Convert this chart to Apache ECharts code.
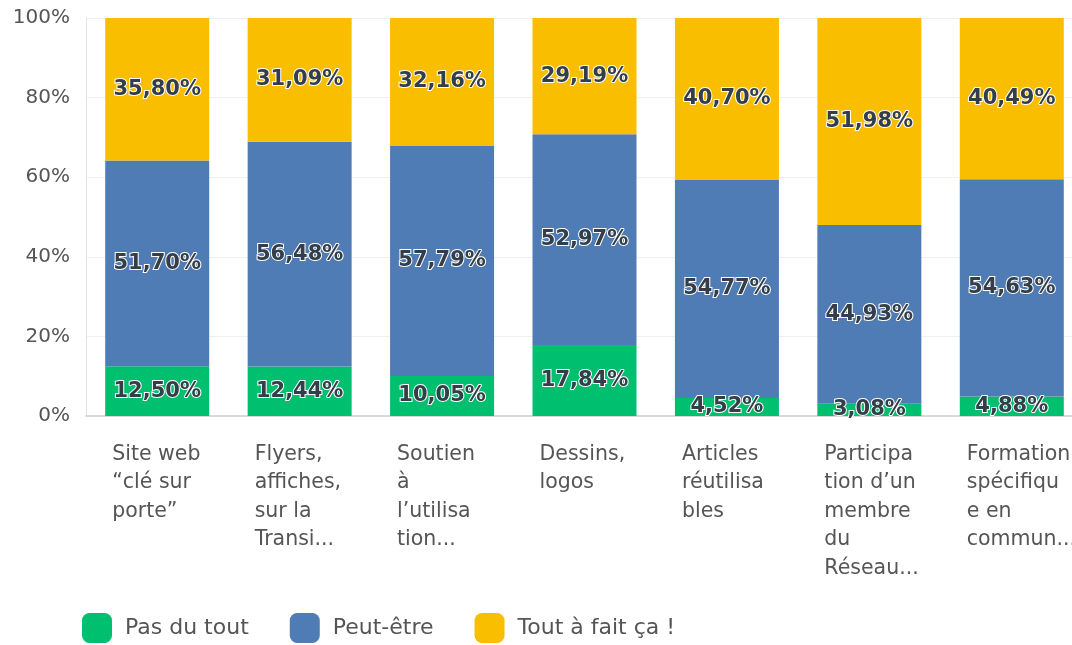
<!DOCTYPE html>
<html><head><meta charset="utf-8">
<script src="https://cdn.jsdelivr.net/npm/echarts@6/dist/echarts.min.js"></script>
<style>html,body{margin:0;padding:0;background:#fff}#c{width:1072px;height:645px}</style>
</head><body><div id="c"></div>
<script>
const categories = [
  "Site web\n“clé sur\nporte”",
  "Flyers,\naffiches,\nsur la\nTransi...",
  "Soutien\nà\nl’utilisa\ntion...",
  "Dessins,\nlogos",
  "Articles\nréutilisa\nbles",
  "Participa\ntion d’un\nmembre\ndu\nRéseau...",
  "Formation\nspécifiqu\ne en\ncommun..."
];
const seriesNames = ["Pas du tout", "Peut-être", "Tout à fait ça !"];
const pasDuTout = [12.50, 12.44, 10.05, 17.84, 4.52, 3.08, 4.88];
const peutEtre = [51.70, 56.48, 57.79, 52.97, 54.77, 44.93, 54.63];
const toutAFait = [35.80, 31.09, 32.16, 29.19, 40.70, 51.98, 40.49];
const yTicks = [0, 20, 40, 60, 80, 100];

const colors = ["#00bf6f", "#507cb6", "#f9be00"];
const font = "'DejaVu Sans', sans-serif";
const fmt = v => v.toFixed(2).replace('.', ',') + '%';

function mk(name, data, color) {
  return {
    name, type: 'bar', stack: 'total', data, barWidth: 104,
    itemStyle: { color },
    label: {
      show: true, position: 'inside',
      formatter: p => fmt(p.value),
      color: '#333e48', fontSize: 21, fontFamily: font, fontWeight: 'bold',
      textBorderColor: '#ffffff', textBorderWidth: 2
    }
  };
}

const chart = echarts.init(document.getElementById('c'));
chart.setOption({
  animation: false,
  backgroundColor: '#fff',
  color: colors,
  grid: { left: 86, width: 997, top: 18, bottom: 229, outerBoundsMode: 'none', containLabel: false },
  legend: {
    left: 82, top: 613, padding: 0, itemWidth: 30, itemHeight: 30, itemGap: 41,
    icon: 'roundRect',
    textStyle: { fontSize: 22, color: '#555', fontFamily: font, padding: [5, 0, 0, 8] },
    data: seriesNames
  },
  xAxis: {
    type: 'category', data: categories,
    axisLine: { lineStyle: { color: '#d9d9d9', width: 2 } },
    axisTick: { show: false },
    axisLabel: {
      interval: 0, margin: 24, width: 90, overflow: 'none', align: 'center',
      formatter: v => '{a|' + v + '}',
      rich: { a: { align: 'left', fontSize: 20.5, lineHeight: 28.5, color: '#555', fontFamily: font } }
    }
  },
  yAxis: {
    type: 'value', min: yTicks[0], max: yTicks[yTicks.length - 1], interval: 20,
    axisLine: { show: true, lineStyle: { color: '#e3e3e3' } },
    axisTick: { show: false },
    splitLine: { lineStyle: { color: '#f0f0f0' } },
    axisLabel: { formatter: v => v + '%', fontSize: 20, color: '#555', fontFamily: font, margin: 16 }
  },
  series: [
    mk(seriesNames[0], pasDuTout, colors[0]),
    mk(seriesNames[1], peutEtre, colors[1]),
    mk(seriesNames[2], toutAFait, colors[2])
  ]
});
</script></body></html>
